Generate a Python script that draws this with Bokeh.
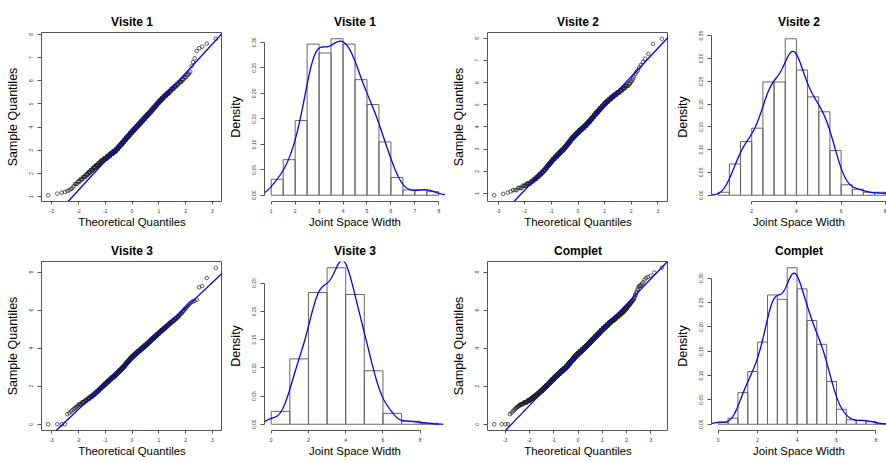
import numpy as np
from statistics import NormalDist
from bokeh.plotting import figure
from bokeh.layouts import column, row
from bokeh.models import FixedTicker, PrintfTickFormatter, Slope, Range1d
from bokeh.embed import file_html
from bokeh.resources import INLINE

# ---------------- data (sorted samples as value / count runs) ----------------
V1_VALUES = [1.06, 1.13, 1.17, 1.20, 1.24, 1.28, 1.33, 1.38, 1.45,
             1.55, 1.65, 1.75, 1.85, 1.95,
             2.05, 2.15, 2.25, 2.35, 2.45,
             2.55, 2.65, 2.75, 2.85, 2.95,
             3.05, 3.15, 3.25, 3.35, 3.45,
             3.55, 3.65, 3.75, 3.85, 3.95,
             4.05, 4.15, 4.25, 4.35, 4.45,
             4.55, 4.65, 4.75, 4.85, 4.95,
             5.05, 5.15, 5.25, 5.35, 5.45,
             5.55, 5.65, 5.75, 5.85, 5.95,
             6.05, 6.15, 6.25, 6.30, 6.38,
             6.62, 6.80, 6.97,
             7.28, 7.40, 7.47,
             7.60, 7.81]
V1_COUNTS = [1, 1, 1, 1, 1, 1, 1, 1, 1,
             3, 3, 4, 5, 5,
             6, 7, 8, 10, 11,
             14, 16, 17, 18, 20,
             16, 16, 16, 16, 16,
             17, 17, 18, 18, 18,
             18, 17, 17, 17, 16,
             15, 14, 13, 12, 11,
             11, 11, 10, 10, 9,
             7, 7, 6, 5, 5,
             3, 3, 2, 1, 1,
             1, 1, 1,
             1, 1, 1,
             1, 1]

V2_VALUES = [0.92, 0.98,
             1.04, 1.09, 1.15, 1.25, 1.35, 1.45,
             1.55, 1.65, 1.75, 1.85, 1.95,
             2.05, 2.15, 2.25, 2.35, 2.45,
             2.55, 2.65, 2.75, 2.85, 2.95,
             3.05, 3.15, 3.25, 3.35, 3.45,
             3.55, 3.65, 3.75, 3.85, 3.95,
             4.05, 4.15, 4.25, 4.35, 4.45,
             4.55, 4.65, 4.75, 4.85, 4.95,
             5.05, 5.15, 5.25, 5.35, 5.45,
             5.55, 5.65, 5.75, 5.85, 5.95,
             6.05, 6.12, 6.20, 6.28, 6.40, 6.48,
             6.55, 6.68, 6.80, 6.93,
             7.08, 7.30,
             7.75, 7.98]
V2_COUNTS = [1, 1,
             1, 1, 3, 4, 5, 7,
             6, 7, 7, 8, 8,
             8, 8, 9, 10, 10,
             13, 14, 15, 16, 18,
             15, 15, 15, 15, 16,
             19, 20, 21, 22, 23,
             20, 18, 16, 15, 15,
             14, 14, 13, 13, 12,
             12, 12, 11, 11, 10,
             9, 7, 6, 5, 3,
             2, 1, 1, 1, 1, 1,
             1, 1, 1, 1,
             1, 1,
             1, 1]

V3_VALUES = [0.00,
             0.53, 0.60, 0.68, 0.74, 0.80, 0.85, 0.90, 0.94, 0.98,
             1.05, 1.15, 1.25, 1.35, 1.45,
             1.55, 1.65, 1.75, 1.85, 1.95,
             2.05, 2.15, 2.25, 2.35, 2.45,
             2.55, 2.65, 2.75, 2.85, 2.95,
             3.05, 3.15, 3.25, 3.35, 3.45,
             3.55, 3.65, 3.75, 3.85, 3.95,
             4.05, 4.15, 4.25, 4.35, 4.45,
             4.55, 4.65, 4.75, 4.85, 4.95,
             5.05, 5.15, 5.25, 5.35, 5.45,
             5.55, 5.65, 5.75, 5.85, 5.95,
             6.05, 6.12, 6.18, 6.24, 6.30, 6.36, 6.42, 6.46, 6.49,
             6.55,
             7.20, 7.27, 7.69,
             8.23]
V3_COUNTS = [4,
             1, 1, 1, 1, 1, 1, 1, 1, 1,
             4, 5, 5, 6, 7,
             7, 7, 8, 8, 9,
             10, 11, 12, 13, 15,
             14, 14, 14, 15, 15,
             13, 13, 14, 14, 15,
             17, 18, 18, 18, 18,
             17, 16, 15, 14, 13,
             13, 12, 11, 10, 10,
             9, 8, 7, 7, 6,
             5, 4, 3, 3, 2,
             2, 1, 1, 1, 1, 1, 1, 1, 1,
             1,
             1, 1, 1,
             1]

TITLES = ["Visite 1", "Visite 2", "Visite 3", "Complet"]

V1_BREAKS = [1.0, 1.5, 2.0, 2.5, 3.0, 3.5, 4.0, 4.5, 5.0, 5.5, 6.0, 6.5, 7.0, 7.5, 8.0]
V2_BREAKS = [0.5, 1.0, 1.5, 2.0, 2.5, 3.0, 3.5, 4.0, 4.5, 5.0, 5.5, 6.0, 6.5, 7.0, 7.5, 8.0]
V3_BREAKS = [0, 1, 2, 3, 4, 5, 6, 7, 8, 9]
ALL_BREAKS = [0.0, 0.5, 1.0, 1.5, 2.0, 2.5, 3.0, 3.5, 4.0, 4.5, 5.0, 5.5, 6.0, 6.5,
              7.0, 7.5, 8.0, 8.5]

QQ_X_TICKS = [-3, -2, -1, 0, 1, 2, 3]
QQ_Y_TICKS = [[1, 2, 3, 4, 5, 6, 7, 8], [1, 2, 3, 4, 5, 6, 7, 8],
              [0, 2, 4, 6, 8], [0, 2, 4, 6, 8]]
HIST_X_TICKS = [[1, 2, 3, 4, 5, 6, 7, 8], [2, 4, 6, 8], [0, 2, 4, 6, 8], [0, 2, 4, 6, 8]]
HIST_Y_TICKS = [[0.0, 0.05, 0.10, 0.15, 0.20, 0.25, 0.30],
                [0.0, 0.05, 0.10, 0.15, 0.20, 0.25, 0.30, 0.35],
                [0.0, 0.05, 0.10, 0.15, 0.20, 0.25],
                [0.0, 0.05, 0.10, 0.15, 0.20, 0.25, 0.30]]

# ---------------- styling / geometry ----------------
FONT = "Liberation Sans"
BLUE = "#0000FF"
FULL_W = 181
FRAME_H = 169
COL_LEFT = [41, 42, 42, 43]
COL_FRAME_W = [181, 181, 181, 175]
ROW_TOP = [32, 31]
ROW_BOTTOM = [29, 29]


def expand(values, counts):
    return np.repeat(np.array(values, dtype=float), counts)


def r_range(lo, hi):
    d = (hi - lo) * 0.04
    return lo - d, hi + d


def kde(x):
    n = len(x)
    sd = x.std(ddof=1)
    q1, q3 = np.percentile(x, [25, 75])
    bw = 0.9 * min(sd, (q3 - q1) / 1.34) * n ** -0.2
    grid = np.linspace(x.min() - 3 * bw, x.max() + 3 * bw, 512)
    dens = np.exp(-0.5 * ((grid[:, None] - x[None, :]) / bw) ** 2).sum(1) / (n * bw * np.sqrt(2 * np.pi))
    return grid, dens


def base_fig(title, xr, yr, col, rowi, xlabel, ylabel):
    fw = COL_FRAME_W[col]
    x0, x1 = xr
    if fw != FULL_W:
        x1 = x0 + (x1 - x0) * fw / FULL_W
    p = figure(frame_width=fw, frame_height=FRAME_H,
               x_range=Range1d(x0, x1), y_range=Range1d(*yr),
               output_backend="svg", toolbar_location=None, title=title,
               min_border_left=COL_LEFT[col], min_border_right=0,
               min_border_top=ROW_TOP[rowi], min_border_bottom=ROW_BOTTOM[rowi],
               background_fill_color="white", border_fill_color="white")
    p.grid.visible = False
    p.title.align = "center"
    p.title.text_font = FONT
    p.title.text_font_size = "12px"
    p.title.text_font_style = "bold"
    p.title.text_color = "#000000"
    p.title.standoff = 8
    for ax in (p.xaxis[0], p.yaxis[0]):
        ax.major_label_text_font = FONT
        ax.major_label_text_font_size = "5px"
        ax.major_label_text_color = "#333333"
        ax.axis_label_text_font = FONT
        ax.axis_label_text_font_style = "normal"
        ax.axis_label_text_color = "#000000"
        ax.minor_tick_line_color = None
        ax.major_tick_in = 0
        ax.major_tick_line_color = "#555555"
        ax.axis_line_color = "#555555"
    xa, ya = p.xaxis[0], p.yaxis[0]
    xa.axis_label = xlabel
    ya.axis_label = ylabel
    xa.axis_label_text_font_size = "11.4px"
    ya.axis_label_text_font_size = "12.5px"
    xa.major_tick_out = 3
    xa.major_label_standoff = 4
    xa.axis_label_standoff = 0
    ya.major_tick_out = 4
    ya.major_label_standoff = 4
    ya.major_label_orientation = "vertical"
    ya.axis_label_standoff = 7
    return p


def qq_panel(sample, title, col, rowi, yticks):
    y = np.sort(sample)
    n = len(y)
    nd = NormalDist()
    x = np.array([nd.inv_cdf((i - 0.5) / n) for i in range(1, n + 1)])
    p = base_fig(title, r_range(x.min(), x.max()), r_range(y.min(), y.max()),
                 col, rowi, "Theoretical Quantiles", "Sample Quantiles")
    p.outline_line_color = "#555555"
    p.outline_line_width = 1
    p.xaxis[0].axis_line_color = None
    p.yaxis[0].axis_line_color = None
    p.xaxis[0].ticker = FixedTicker(ticks=QQ_X_TICKS)
    p.yaxis[0].ticker = FixedTicker(ticks=yticks)
    p.xaxis[0].formatter = PrintfTickFormatter(format="%d")
    p.yaxis[0].formatter = PrintfTickFormatter(format="%d")
    p.scatter(x, y, marker="circle", size=3.6, fill_color=None,
              line_color="#222222", line_width=0.7)
    q1, q3 = np.percentile(y, [25, 75])
    z1, z3 = nd.inv_cdf(0.25), nd.inv_cdf(0.75)
    slope = (q3 - q1) / (z3 - z1)
    p.add_layout(Slope(gradient=slope, y_intercept=q1 - slope * z1,
                       line_color=BLUE, line_width=1.3))
    return p


def hist_panel(sample, breaks, title, col, rowi, xticks, yticks):
    dens, edges = np.histogram(sample, bins=breaks, density=True)
    gx, gy = kde(sample)
    p = base_fig(title, r_range(edges[0], edges[-1]), r_range(0, dens.max()),
                 col, rowi, "Joint Space Width", "Density")
    p.outline_line_color = None
    p.xaxis[0].ticker = FixedTicker(ticks=xticks)
    p.yaxis[0].ticker = FixedTicker(ticks=yticks)
    p.xaxis[0].bounds = (xticks[0], xticks[-1])
    p.yaxis[0].bounds = (yticks[0], yticks[-1])
    p.xaxis[0].formatter = PrintfTickFormatter(format="%d")
    p.yaxis[0].formatter = PrintfTickFormatter(format="%.2f")
    p.quad(left=edges[:-1], right=edges[1:], bottom=0, top=dens,
           fill_color=None, line_color="#666666", line_width=1)
    p.line(gx, gy, line_color=BLUE, line_width=1.3)
    return p


v1 = expand(V1_VALUES, V1_COUNTS)
v2 = expand(V2_VALUES, V2_COUNTS)
v3 = expand(V3_VALUES, V3_COUNTS)
allv = np.concatenate([v1, v2, v3])

row1 = row(qq_panel(v1, TITLES[0], 0, 0, QQ_Y_TICKS[0]),
           hist_panel(v1, V1_BREAKS, TITLES[0], 1, 0, HIST_X_TICKS[0], HIST_Y_TICKS[0]),
           qq_panel(v2, TITLES[1], 2, 0, QQ_Y_TICKS[1]),
           hist_panel(v2, V2_BREAKS, TITLES[1], 3, 0, HIST_X_TICKS[1], HIST_Y_TICKS[1]))
row2 = row(qq_panel(v3, TITLES[2], 0, 1, QQ_Y_TICKS[2]),
           hist_panel(v3, V3_BREAKS, TITLES[2], 1, 1, HIST_X_TICKS[2], HIST_Y_TICKS[2]),
           qq_panel(allv, TITLES[3], 2, 1, QQ_Y_TICKS[3]),
           hist_panel(allv, ALL_BREAKS, TITLES[3], 3, 1, HIST_X_TICKS[3], HIST_Y_TICKS[3]))
layout = column(row1, row2)

open("out.html", "w").write(file_html(layout, INLINE))
